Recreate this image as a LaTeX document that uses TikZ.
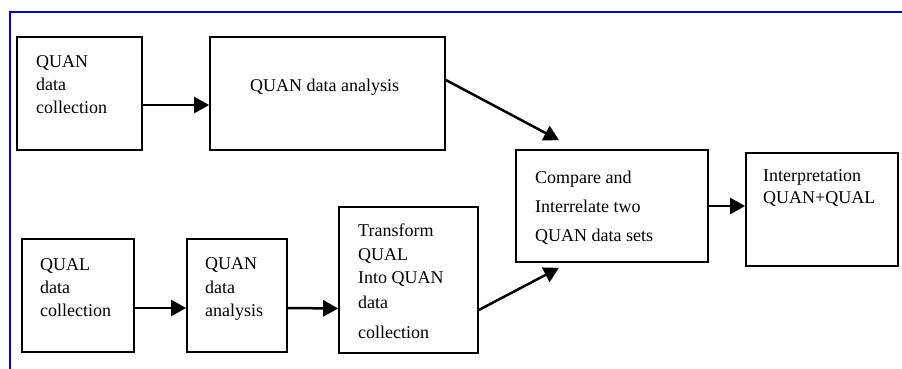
\documentclass[tikz,border=0pt]{standalone}
\usepackage{fontspec}
\setmainfont{Liberation Serif}
\usetikzlibrary{arrows.meta}
\begin{document}
\begin{tikzpicture}[x=1pt,y=-1pt,
  box/.style={draw, line width=1.7pt, inner sep=0pt},
  txt/.style={anchor=base west, inner sep=0pt, font=\fontsize{18}{22}\selectfont},
  arr/.style={line width=2.5pt, -{Triangle[length=15pt,width=16pt]}},
  frame/.style={draw=blue, line width=1.6pt}]
\useasboundingbox (0,0) rectangle (902,369);
% partial blue frame
\coordinate (fTR) at (902,12);
\coordinate (fTL) at (10,12);
\coordinate (fBL) at (10,369);
\draw[frame] (fTR) -- (fTL) -- (fBL);
% boxes
\node[box, minimum width=125pt, minimum height=113pt] (A) at (79.5,93.5) {};
\node[box, minimum width=235pt, minimum height=113pt] (B) at (327.5,93.5) {};
\node[box, minimum width=112pt, minimum height=113pt] (C) at (78,295.5) {};
\node[box, minimum width=100pt, minimum height=113pt] (D) at (237,295.5) {};
\node[box, minimum width=139pt, minimum height=146pt] (E) at (408.5,280) {};
\node[box, minimum width=192pt, minimum height=112pt] (F) at (612,206) {};
\node[box, minimum width=152pt, minimum height=113pt] (G) at (822,209.5) {};
% texts
\node[txt] (a1) at (36,67) {QUAN};
\node[txt] (a2) at (36,90.5) {data};
\node[txt] (a3) at (36,113.5) {collection};
\node[txt] (b1) at (250,92) {QUAN data analysis};
\node[txt] (c1) at (40,270) {QUAL};
\node[txt] (c2) at (40,293) {data};
\node[txt] (c3) at (40,316) {collection};
\node[txt] (d1) at (205,269.5) {QUAN};
\node[txt] (d2) at (205,293) {data};
\node[txt] (d3) at (205,316) {analysis};
\node[txt] (e1) at (358,236) {Transform};
\node[txt] (e2) at (358,260) {QUAL};
\node[txt] (e3) at (358,283) {Into QUAN};
\node[txt] (e4) at (358,308) {data};
\node[txt] (e5) at (358,338) {collection};
\node[txt] (f1) at (535,183) {Compare and};
\node[txt] (f2) at (535,212) {Interrelate two};
\node[txt] (f3) at (535,241) {QUAN data sets};
\node[txt] (g1) at (763,181) {Interpretation};
\node[txt] (g2) at (763,203) {QUAN+QUAL};
% arrows
\draw[arr] ([yshift=-11.5pt]A.east) -- ([yshift=-11.5pt]B.west);
\draw[arr] ([yshift=-12.5pt]C.east) -- ([yshift=-12.5pt]D.west);
\draw[arr] ([yshift=-12.5pt]D.east) -- ([yshift=-28.5pt]E.west);
\draw[arr] ([yshift=13.5pt]B.east) -- ([xshift=-53pt,yshift=9pt]F.north);
\draw[arr] ([yshift=-30pt]E.east) -- ([xshift=-53pt,yshift=-5pt]F.south);
\draw[arr] (F.east) -- ([yshift=3.5pt]G.west);
\end{tikzpicture}
\end{document}
